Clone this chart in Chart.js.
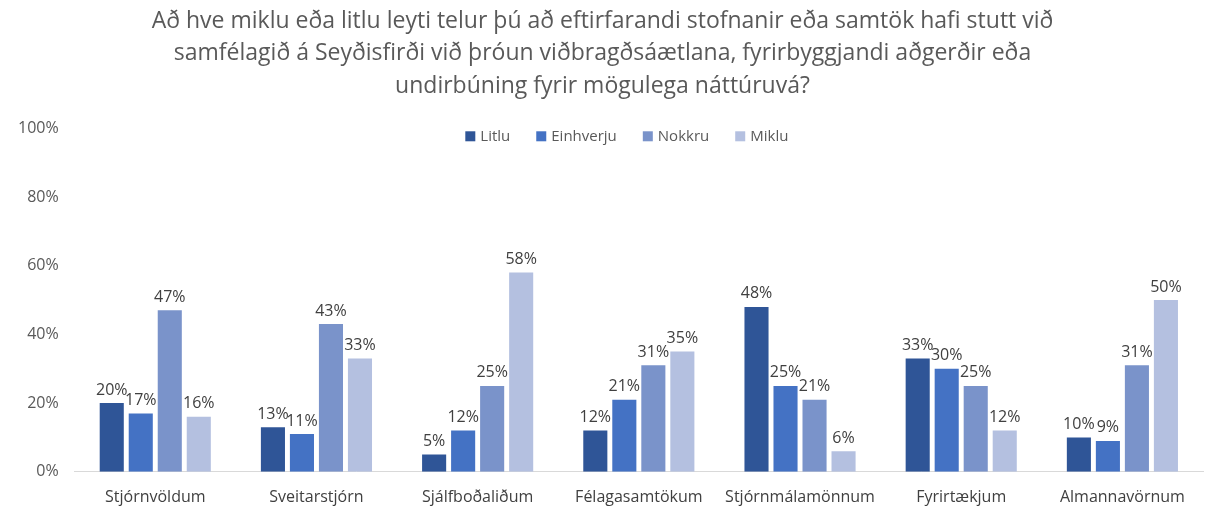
<!DOCTYPE html>
<html>
<head>
<meta charset="utf-8">
<script src="https://cdn.jsdelivr.net/npm/chart.js@4/dist/chart.umd.min.js"></script>
<style>
html,body{margin:0;padding:0;background:#fff;}
#wrap{width:1209px;height:506px;}
</style>
</head>
<body>
<div id="wrap"><canvas id="c" width="1209" height="506"></canvas></div>
<script>
const categories = ["Stjórnvöldum","Sveitarstjórn","Sjálfboðaliðum","Félagasamtökum","Stjórnmálamönnum","Fyrirtækjum","Almannavörnum"];
const seriesNames = ["Litlu","Einhverju","Nokkru","Miklu"];
const litlu     = [20,13,5,12,48,33,10];
const einhverju = [17,11,12,21,25,30,9];
const nokkru    = [47,43,25,31,21,25,31];
const miklu     = [16,33,58,35,6,12,50];
const yTicks = [0,20,40,60,80,100];
const titleLines = [
  "Að hve miklu eða litlu leyti telur þú að eftirfarandi stofnanir eða samtök hafi stutt við",
  "samfélagið á Seyðisfirði við þróun viðbragðsáætlana, fyrirbyggjandi aðgerðir eða",
  "undirbúning fyrir mögulega náttúruvá?"
];
const colors = ["#2F5597","#4472C4","#7A93CA","#B4C0E0"];
const FONT = "'Open Sans', 'Noto Sans', sans-serif";

const labelPlugin = {
  id: 'barLabels',
  afterDatasetsDraw(chart) {
    const ctx = chart.ctx;
    ctx.save();
    ctx.font = "16px " + FONT;
    ctx.fillStyle = "#404040";
    ctx.textAlign = "center";
    ctx.textBaseline = "bottom";
    chart.data.datasets.forEach((ds, i) => {
      const meta = chart.getDatasetMeta(i);
      meta.data.forEach((bar, j) => {
        ctx.fillText(ds.data[j] + "%", bar.x, bar.y - 5);
      });
    });
    ctx.restore();
  }
};

// horizontal legend drawn inside the chart area, using the chart's own dataset labels/colours
const legendPlugin = {
  id: 'innerLegend',
  afterDraw(chart) {
    const ctx = chart.ctx;
    const area = chart.chartArea;
    ctx.save();
    ctx.font = "15px " + FONT;
    ctx.textBaseline = "middle";
    ctx.textAlign = "left";
    const box = 10, gapBoxText = 5, gapItems = 26;
    const items = chart.data.datasets.map(ds => ({ text: ds.label, color: ds.backgroundColor, w: ctx.measureText(ds.label).width }));
    const total = items.reduce((s, it) => s + box + gapBoxText + it.w, 0) + gapItems * (items.length - 1);
    let x = (area.left + area.right) / 2 - total / 2 - 12;
    const y = area.top + 8;
    items.forEach(it => {
      ctx.fillStyle = it.color;
      ctx.fillRect(x, y - box / 2, box, box);
      x += box + gapBoxText;
      ctx.fillStyle = "#595959";
      ctx.fillText(it.text, x, y);
      x += it.w + gapItems;
    });
    ctx.restore();
  }
};

const data = {
  labels: categories,
  datasets: [litlu, einhverju, nokkru, miklu].map((d, i) => ({
    label: seriesNames[i],
    data: d,
    backgroundColor: colors[i],
    borderWidth: 0,
    categoryPercentage: 0.72,
    barPercentage: 0.83
  }))
};

new Chart(document.getElementById('c'), {
  type: 'bar',
  data,
  plugins: [labelPlugin, legendPlugin],
  options: {
    responsive: false,
    animation: false,
    layout: { padding: { left: 2, right: 6, top: 0, bottom: -17 } },
    plugins: {
      title: {
        display: true,
        text: titleLines,
        color: "#595959",
        font: { family: FONT, size: 23, weight: 'normal', lineHeight: 1.41 },
        padding: { top: 5, bottom: 26 }
      },
      legend: { display: false },
      tooltip: { enabled: false }
    },
    scales: {
      x: {
        grid: { display: false, drawTicks: false },
        border: { display: true, color: "#d9d9d9", width: 1 },
        ticks: { color: "#404040", font: { family: FONT, size: 16 }, padding: 16 }
      },
      y: {
        min: 0, max: 100,
        afterBuildTicks(axis) { axis.ticks = yTicks.map(v => ({ value: v })); },
        grid: { display: false, drawTicks: false },
        border: { display: false },
        ticks: {
          color: "#595959",
          font: { family: FONT, size: 16 },
          padding: 16,
          callback: v => v + "%"
        }
      }
    }
  }
});
</script>
</body>
</html>
